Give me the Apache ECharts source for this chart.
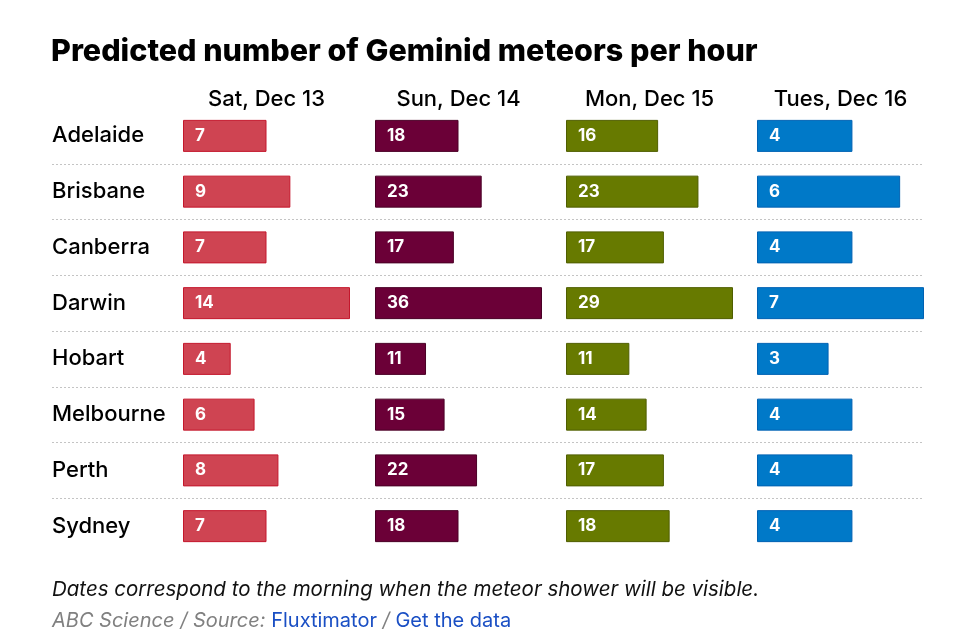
<!DOCTYPE html>
<html lang="en">
<head>
    <meta charset="UTF-8">
    <title>Geminid meteors</title>
    <script src="https://cdn.jsdelivr.net/npm/echarts@6/dist/echarts.min.js"></script>
</head>
<body style="margin:0;background:#fff;">
<div id="main" style="width:966px;height:638px;"></div>
<script type="text/javascript">
    // data
    var cities = ['Adelaide', 'Brisbane', 'Canberra', 'Darwin', 'Hobart', 'Melbourne', 'Perth', 'Sydney'];
    var days = ['Sat, Dec 13', 'Sun, Dec 14', 'Mon, Dec 15', 'Tues, Dec 16'];
    var sat = [7, 9, 7, 14, 4, 6, 8, 7];
    var sun = [18, 23, 17, 36, 11, 15, 22, 18];
    var mon = [16, 23, 17, 29, 11, 14, 17, 18];
    var tue = [4, 6, 4, 7, 3, 4, 4, 4];

    var values = [sat, sun, mon, tue];
    var fills = ['#cf4452', '#6b0037', '#677a00', '#0079c8'];
    var borders = ['#c4172c', '#4a0026', '#4f5e00', '#0062b3'];
    var lefts = [183, 375, 566, 757];
    var colW = 167;
    var gridTop = 108, rowsH = 446;
    var font = 'Inter, "Open Sans", sans-serif';

    var grids = [], xAxes = [], yAxes = [], series = [], titles = [];

    titles.push({
        text: 'Predicted number of Geminid meteors per hour',
        left: 51, top: 36, padding: 0,
        textStyle: {fontFamily: font, fontSize: 30.5, fontWeight: 800, color: '#000'}
    });

    // dotted row separators
    grids.push({left: 52, top: gridTop, width: 872, height: rowsH});
    xAxes.push({gridIndex: 0, type: 'value', show: false, min: 0, max: 1});
    yAxes.push({
        gridIndex: 0, type: 'value', min: 0, max: 8, interval: 1,
        axisLine: {show: false}, axisTick: {show: false}, axisLabel: {show: false},
        splitLine: {show: true, showMinLine: false, showMaxLine: false,
            lineStyle: {color: '#c4c4c4', type: [2, 2], width: 1}}
    });

    for (var i = 0; i < 4; i++) {
        var g = i + 1;
        grids.push({left: lefts[i], top: gridTop, width: colW, height: rowsH});
        xAxes.push({
            gridIndex: g, type: 'value', min: 0, max: Math.max.apply(null, values[i]),
            show: false
        });
        yAxes.push({
            gridIndex: g, type: 'category', data: cities, inverse: true,
            axisLine: {show: false}, axisTick: {show: false},
            axisLabel: {
                show: i === 0, align: 'left', margin: 131,
                fontFamily: font, fontSize: 22, fontWeight: 500, color: '#000'
            }
        });
        titles.push({
            text: days[i],
            left: lefts[i] + colW / 2, top: 88, textAlign: 'center', padding: 0,
            textStyle: {fontFamily: font, fontSize: 22, fontWeight: 500, color: '#000'}
        });
        series.push({
            type: 'bar', xAxisIndex: g, yAxisIndex: g,
            data: values[i], barWidth: 32, silent: true,
            itemStyle: {color: fills[i], borderColor: borders[i], borderWidth: 1},
            label: {
                show: true, position: 'insideLeft', distance: 12,
                color: '#fff', fontFamily: font, fontSize: 17, fontWeight: 700
            }
        });
    }

    titles.push({
        text: 'Dates correspond to the morning when the meteor shower will be visible.',
        left: 52, top: 580, padding: 0,
        textStyle: {fontFamily: font, fontSize: 20.5, fontStyle: 'italic', fontWeight: 400, color: '#111'}
    });
    titles.push({
        text: '{g|ABC Science / Source: }{b|Fluxtimator}{g| / }{b|Get the data}',
        left: 52, top: 611, padding: 0,
        textStyle: {
            fontWeight: 400,
            rich: {
                g: {fontFamily: font, fontSize: 20, fontStyle: 'italic', fontWeight: 400, color: '#808080'},
                b: {fontFamily: font, fontSize: 20, fontWeight: 400, color: '#1a4fc4'}
            }
        }
    });

    var myChart = echarts.init(document.getElementById('main'));
    var option = {
        animation: false,
        backgroundColor: '#fff',
        title: titles,
        grid: grids,
        xAxis: xAxes,
        yAxis: yAxes,
        series: series
    };
    myChart.setOption(option);
</script>
</body>
</html>
